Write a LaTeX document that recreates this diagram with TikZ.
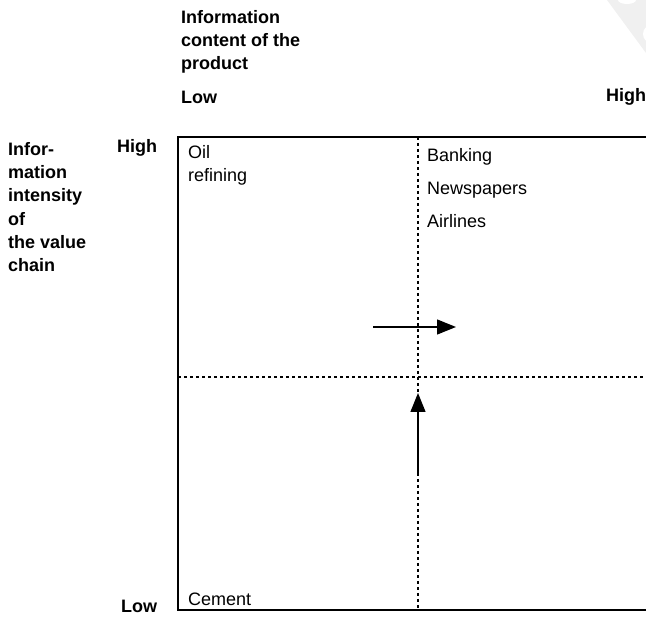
\documentclass[tikz,border=0pt]{standalone}
\usepackage{fontspec}
\setmainfont{Liberation Sans}
\usetikzlibrary{arrows.meta}
\begin{document}
\begin{tikzpicture}[x=1pt,y=-1pt,
  lbl/.style={inner sep=0pt,font=\fontsize{18}{23.3}\selectfont\bfseries,align=left},
  txt/.style={inner sep=0pt,font=\fontsize{18}{23}\selectfont,align=left},
  frame/.style={line width=1.4pt},
  divider/.style={line width=1.1pt,dash pattern=on 3pt off 3pt},
  move/.style={line width=1.3pt,-{Triangle[length=19pt,width=15pt]}}]
\useasboundingbox (0,0) rectangle (646,617);
% watermark fragment
\fill[gray!12] (607,0) -- (646,0) -- (646,53) -- cycle;
\fill[white] (627,0) ellipse (9pt and 4pt);
\fill[white] (652,34) circle (9pt);
% axis labels
\node[lbl,anchor=north west] (xlab) at (181,10) {Information\\content of the\\product};
\node[lbl,anchor=base west] (xlow) at (181,104) {Low};
\node[lbl,anchor=base west] (xhigh) at (606,102) {High};
\node[lbl,anchor=north west] (ylab) at (8,142) {Infor-\\mation\\intensity\\of\\the value\\chain};
\node[lbl,anchor=base west] (yhigh) at (117,153) {High};
\node[lbl,anchor=base west] (ylow) at (121,613) {Low};
% frame
\coordinate (tr) at (646,137);
\coordinate (tl) at (178,137);
\coordinate (bl) at (178,610);
\coordinate (br) at (646,610);
\draw[frame] (tr) -- (tl) -- (bl) -- (br);
% dividers
\coordinate (vt) at (418,137);
\coordinate (vb) at (418,610);
\coordinate (hl) at (178,377);
\coordinate (hr) at (646,377);
\draw[divider] (vt) -- (vb);
\draw[divider] (hl) -- (hr);
% quadrant texts
\node[txt,anchor=north west] (oil) at (188,145) {Oil\\refining};
\node[txt,anchor=base west] (bank) at (427,162) {Banking};
\node[txt,anchor=base west] (news) at (427,195) {Newspapers};
\node[txt,anchor=base west] (air) at (427,228) {Airlines};
\node[txt,anchor=base west] (cem) at (188,606) {Cement};
% arrows
\coordinate (ra) at (373,327);
\coordinate (rb) at (456,327);
\coordinate (ua) at (418,476);
\coordinate (ub) at (418,393);
\draw[move] (ra) -- (rb);
\draw[move] (ua) -- (ub);
\end{tikzpicture}
\end{document}
